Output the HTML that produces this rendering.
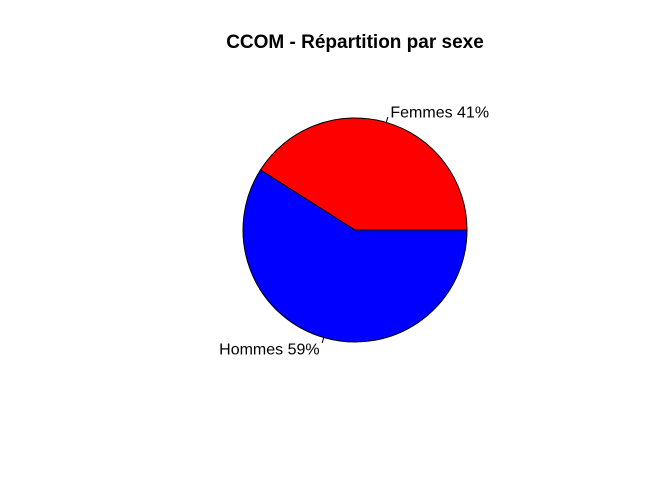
<!DOCTYPE html>
<html><head><meta charset="utf-8"><style>
html,body{margin:0;padding:0;background:#fff;}
svg{display:block;font-family:"Liberation Sans",sans-serif;}
</style></head><body>
<svg id="chart" width="672" height="480">
<text x="355" y="48" text-anchor="middle" font-size="19" font-weight="bold">CCOM - Répartition par sexe</text>
<g id="slices"></g>
</svg>
<script>
const categories = ["Femmes", "Hommes"];
const values = [41, 59];
const colors = ["#ff0000", "#0000ff"];
const cx = 355, cy = 230, r = 112;
const g = document.getElementById('slices');
const ns = "http://www.w3.org/2000/svg";
const total = values.reduce((a,b)=>a+b,0);
let start = 0;
function pt(a, rr){ return [cx + rr*Math.cos(a), cy - rr*Math.sin(a)]; }
values.forEach((v,i)=>{
  const end = start + v/total*2*Math.PI;
  const p0 = pt(start, r), p1 = pt(end, r);
  const large = (end-start) > Math.PI ? 1 : 0;
  const path = document.createElementNS(ns,'path');
  path.setAttribute('d', `M${cx},${cy} L${p0[0]},${p0[1]} A${r},${r} 0 ${large} 0 ${p1[0]},${p1[1]} Z`);
  path.setAttribute('fill', colors[i]);
  path.setAttribute('stroke', '#000');
  path.setAttribute('stroke-width', '1');
  
  
  g.appendChild(path);
  const mid = (start+end)/2;
  const a = pt(mid, r), b = pt(mid, r*1.05), t = pt(mid, r*1.1);
  const ln = document.createElementNS(ns,'line');
  ln.setAttribute('x1', a[0]); ln.setAttribute('y1', a[1]);
  ln.setAttribute('x2', b[0]); ln.setAttribute('y2', b[1]);
  ln.setAttribute('stroke', '#000');
  
  
  g.appendChild(ln);
  const tx = document.createElementNS(ns,'text');
  const right = Math.cos(mid) >= 0;
  tx.setAttribute('x', t[0] + (right ? 1 : -1));
  tx.setAttribute('y', t[1] + 6);
  tx.setAttribute('text-anchor', right ? 'start' : 'end');
  tx.setAttribute('font-size', '16');
  tx.textContent = categories[i] + ' ' + Math.round(v/total*100) + '%';
  
  
  g.appendChild(tx);
  start = end;
});
</script>
</body></html>
